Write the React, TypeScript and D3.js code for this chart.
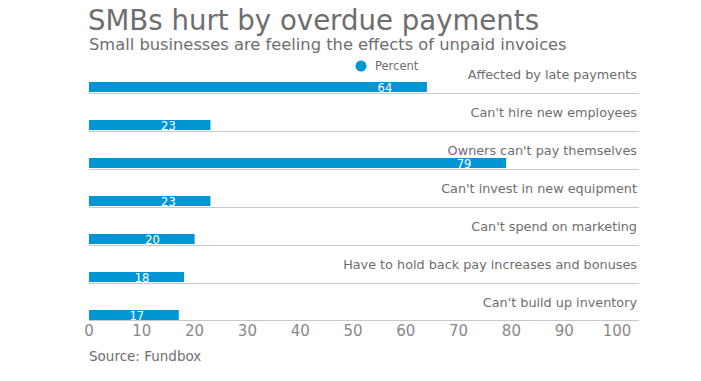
import React from "react";
import * as d3 from "d3";

const categories = [
  "Affected by late payments",
  "Can't hire new employees",
  "Owners can't pay themselves",
  "Can't invest in new equipment",
  "Can't spend on marketing",
  "Have to hold back pay increases and bonuses",
  "Can't build up inventory",
];
const values = [64, 23, 79, 23, 20, 18, 17];
const xTicks = [0, 10, 20, 30, 40, 50, 60, 70, 80, 90, 100];
const seriesName = "Percent";
const title = "SMBs hurt by overdue payments";
const subtitle = "Small businesses are feeling the effects of unpaid invoices";
const source = "Source: Fundbox";

const W = 701;
const H = 381;
const FONT = "'DejaVu Sans', Verdana, sans-serif";
const BLUE = "#0096d6";
const GRAY = "#6e6e6e";

export default function App() {
  const x = d3.scaleLinear().domain([0, 100]).range([89, 617]);
  const rowTop = 74;
  const rowStep = 38;
  const y = d3
    .scaleBand<number>()
    .domain(d3.range(categories.length))
    .range([rowTop, rowTop + rowStep * categories.length]);
  const lineRight = 639;
  const barH = 10;

  return (
    <svg width={W} height={H} style={{ position: "absolute", left: 0, top: 0, fontFamily: FONT }}>
      <text x={88} y={30} fontSize={27.6} fill={GRAY}>{title}</text>
      <text x={89} y={50} fontSize={16.3} fill={GRAY}>{subtitle}</text>

      <circle cx={361} cy={66} r={5.5} fill={BLUE} />
      <text x={375} y={70} fontSize={11.5} fill={GRAY}>{seriesName}</text>

      {categories.map((c, i) => {
        const y0 = y(i)!;
        const lineY = y0 + 19 + 0.5;
        const bTop = y0 + 8;
        return (
          <g key={c}>
            <text x={637} y={y0 + 5} textAnchor="end" fontSize={12.8} fill={GRAY}>{c}</text>
            {i < categories.length - 1 && (
              <line x1={89} x2={lineRight} y1={lineY} y2={lineY} stroke="#c8c8c8" strokeWidth={1} />
            )}
            <rect x={x(0)} y={bTop} width={x(values[i]) - x(0)} height={barH} fill={BLUE} />
            <text x={x(values[i]) - 42} y={bTop + 9.5} textAnchor="middle" fontSize={11.5} fill="#ffffff">
              {values[i]}
            </text>
          </g>
        );
      })}

      <line x1={89} x2={lineRight} y1={320.5} y2={320.5} stroke="#c8c8c8" strokeWidth={1} />
      {xTicks.map((t) => (
        <text key={t} x={x(t)} y={336} textAnchor="middle" fontSize={15} fill="#888888">{t}</text>
      ))}

      <text x={89} y={361} fontSize={13.5} fill={GRAY}>{source}</text>
    </svg>
  );
}
